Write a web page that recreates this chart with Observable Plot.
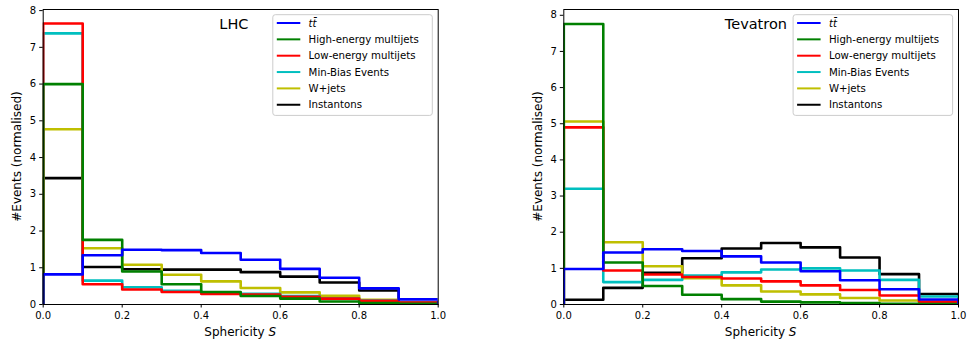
<!DOCTYPE html>
<html><head><meta charset="utf-8">
<script src="https://cdn.jsdelivr.net/npm/d3@7"></script>
<script src="https://cdn.jsdelivr.net/npm/@observablehq/plot@0.6"></script>
<style>
html,body{margin:0;padding:0;background:#fff;}
#wrap{display:flex;width:967px;height:347px;overflow:hidden;}
svg{display:block;}
</style></head><body><div id="wrap"></div>
<script>
const binEdges = [0,0.1,0.2,0.3,0.4,0.5,0.6,0.7,0.8,0.9,1.0];
const seriesNames = ["ttbar","High-energy multijets","Low-energy multijets","Min-Bias Events","W+jets","Instantons"];
const seriesColors = ["#0000ff","#008000","#ff0000","#00bfbf","#bfbf00","#000000"];
const xTicks = [0,0.2,0.4,0.6,0.8,1.0];
const yTicks = [0,1,2,3,4,5,6,7,8];
const panelTitles = ["LHC","Tevatron"];
const xLabelMain = "Sphericity ";
const xLabelVar = "S";
const yLabel = "#Events (normalised)";

// LHC
const lhcTtbar    = [0.82,1.34,1.49,1.48,1.40,1.22,0.97,0.73,0.44,0.14];
const lhcHighE    = [6.00,1.76,0.90,0.55,0.34,0.23,0.16,0.08,0.04,0.02];
const lhcLowE     = [7.65,0.55,0.41,0.34,0.29,0.27,0.21,0.16,0.10,0.05];
const lhcMinBias  = [7.38,0.65,0.47,0.37,0.31,0.29,0.23,0.17,0.11,0.05];
const lhcWjets    = [4.77,1.53,1.08,0.81,0.63,0.45,0.33,0.24,0.13,0.04];
const lhcInst     = [3.44,1.02,0.96,0.95,0.95,0.88,0.76,0.60,0.38,0.05];
// Tevatron
const tevTtbar    = [0.98,1.44,1.53,1.48,1.33,1.16,0.92,0.67,0.42,0.14];
const tevHighE    = [7.76,1.16,0.51,0.27,0.15,0.08,0.06,0.04,0.02,0.01];
const tevLowE     = [4.90,0.94,0.83,0.76,0.72,0.64,0.53,0.40,0.25,0.08];
const tevMinBias  = [3.20,0.62,0.68,0.80,0.89,0.97,1.00,0.94,0.68,0.22];
const tevWjets    = [5.06,1.72,1.06,0.73,0.53,0.36,0.28,0.18,0.11,0.05];
const tevInst     = [0.13,0.46,0.88,1.28,1.55,1.70,1.58,1.30,0.84,0.29];

const lhcSeries = [lhcTtbar,lhcHighE,lhcLowE,lhcMinBias,lhcWjets,lhcInst];
const tevSeries = [tevTtbar,tevHighE,tevLowE,tevMinBias,tevWjets,tevInst];

// first series is drawn last (on top), as in the reference
function stepPoints(seriesList) {
  const pts = [];
  for (let k = seriesList.length - 1; k >= 0; k--) {
    const vals = seriesList[k];
    const name = seriesNames[k];
    pts.push({x: binEdges[0], y: 0, name});
    vals.forEach((v, i) => pts.push({x: binEdges[i], y: v, name}));
    pts.push({x: binEdges[binEdges.length-1], y: vals[vals.length-1], name});
    pts.push({x: binEdges[binEdges.length-1], y: 0, name});
  }
  return pts;
}

function panel(opts) {
  const H = 347, mT = 9, mB = 43;
  const svg = Plot.plot({
    width: opts.width, height: H,
    marginLeft: opts.mL, marginRight: opts.mR, marginTop: mT, marginBottom: mB,
    style: {fontFamily: "DejaVu Sans", fontSize: "10px", color: "black", background: "white", overflow: "visible"},
    x: {domain: [0, 1]},
    y: {domain: [0, opts.yMax]},
    color: {domain: seriesNames, range: seriesColors},
    marks: [
      Plot.line(stepPoints(opts.series), {x: "x", y: "y", z: "name", stroke: "name", curve: "step-after", strokeWidth: 2.6, clip: "frame"}),
      Plot.frame({stroke: "black", strokeWidth: 1}),
      Plot.axisX(xTicks, {tickFormat: d3.format(".1f"), tickSize: 3.5, tickPadding: 3.5, label: null, stroke: "black", fill: "black"}),
      Plot.axisY(yTicks, {tickSize: 3.5, tickPadding: 3.5, label: null, stroke: "black", fill: "black"})
    ]
  });
  const s = d3.select(svg);
  const left = opts.mL, right = opts.width - opts.mR, top = mT, bottom = H - mB;
  const cx = (left + right) / 2;
  // x label
  const xl = s.append("text").attr("x", cx).attr("y", 336).attr("text-anchor", "middle")
    .attr("font-size", 12).attr("fill", "black");
  xl.append("tspan").text(xLabelMain);
  xl.append("tspan").attr("font-style", "italic").text(xLabelVar);
  // y label
  s.append("text").attr("transform", `translate(${opts.yLabX},${(top + bottom) / 2}) rotate(-90)`)
    .attr("text-anchor", "middle").attr("font-size", 12).attr("fill", "black").text(yLabel);
  // title
  s.append("text").attr("x", left + opts.titleFrac * (right - left)).attr("y", 28.5)
    .attr("text-anchor", "middle").attr("font-size", 14.5).attr("fill", "black").text(opts.title);
  // legend
  const lw = 159.5, lh = 100.7;
  const lx = right - 5.4 - lw, ly = top + 5.7;
  const g = s.append("g").attr("text-anchor", "start");
  g.append("rect").attr("x", lx).attr("y", ly).attr("width", lw).attr("height", lh)
    .attr("rx", 2.5).attr("fill", "white").attr("fill-opacity", 0.8)
    .attr("stroke", "#cccccc").attr("stroke-width", 1);
  seriesNames.forEach((n, i) => {
    const yy = ly + 8.3 + i * 16.35;
    g.append("line").attr("x1", lx + 4).attr("x2", lx + 27.5).attr("y1", yy).attr("y2", yy)
      .attr("stroke", seriesColors[i]).attr("stroke-width", 2);
    const t = g.append("text").attr("x", lx + 35.8).attr("y", yy + 3.6).attr("font-size", 10.2)
      .attr("fill", "black").attr("text-anchor", "start");
    if (i === 0) {
      t.attr("font-style", "italic").text("t\u0074\u0304");
    } else {
      t.text(n);
    }
  });
  return svg;
}

const wrap = document.getElementById("wrap");
wrap.appendChild(panel({width: 483, mL: 42.7, mR: 45.3, yMax: 8.03, series: lhcSeries, title: panelTitles[0], titleFrac: 0.484, yLabX: 20.5}));
wrap.appendChild(panel({width: 484, mL: 80.3, mR: 9, yMax: 8.16, series: tevSeries, title: panelTitles[1], titleFrac: 0.488, yLabX: 58.5}));
</script>
</body></html>
